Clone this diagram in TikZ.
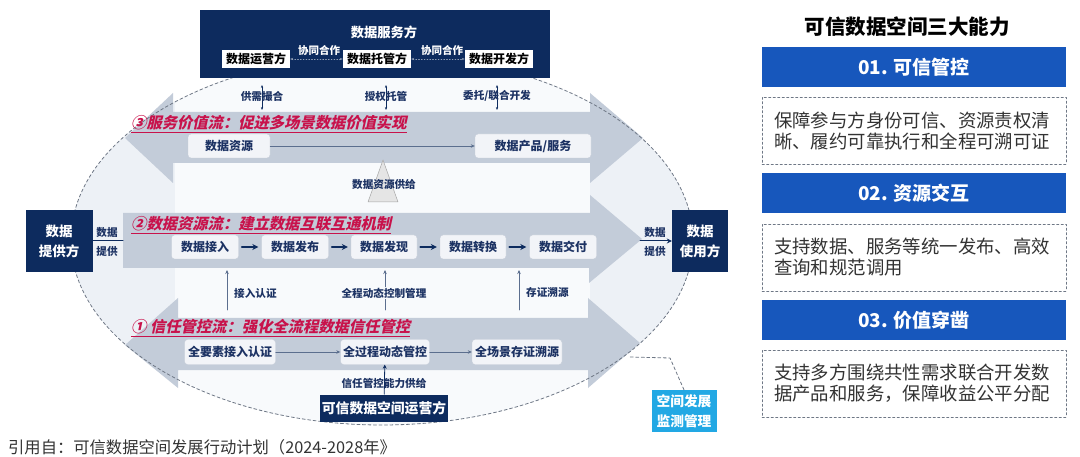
\documentclass[tikz,border=0pt]{standalone}
\usepackage{fontspec}
\setmainfont{Noto Sans CJK SC}
\newfontfamily\flowtitlefont{Noto Sans CJK SC}[FakeSlant=0.22,BoldFeatures={FakeSlant=0.22}]
\usetikzlibrary{arrows.meta}

\definecolor{navy}{HTML}{0D2B5E}
\definecolor{txtnavy}{HTML}{1C3263}
\definecolor{flowgray}{HTML}{C3CCD9}
\definecolor{ellbg}{HTML}{EDF1F6}
\definecolor{bandwhite}{HTML}{F8FAFC}
\definecolor{nodefill}{HTML}{F2F4F8}
\definecolor{nodeline}{HTML}{C5CCD8}
\definecolor{crimson}{HTML}{C8124B}
\definecolor{capblue}{HTML}{1757BC}
\definecolor{cyanbox}{HTML}{22A8E4}
\definecolor{dashgray}{HTML}{6E7785}
\definecolor{linkgray}{HTML}{5B6E8E}

\begin{document}
\begin{tikzpicture}[x=1pt,y=-1pt,line cap=round,line join=round,
  flownode/.style={draw=nodeline,fill=nodefill,rounded corners=3pt,text=txtnavy,inner sep=0pt,
    minimum height=24pt,font=\bfseries\fontsize{12}{14}\selectfont},
  innerbox/.style={fill=white,text=black,inner sep=0pt,minimum width=68pt,minimum height=18pt,
    font=\bfseries\fontsize{12}{14}\selectfont},
  partybox/.style={fill=navy,text=white,inner sep=0pt,align=center,minimum height=62pt,
    font=\bfseries\fontsize{13.5}{20}\selectfont},
  tag/.style={text=txtnavy,inner sep=1pt,font=\bfseries\fontsize{10.6}{12}\selectfont},
  flowtitle/.style={anchor=west,text=crimson,inner sep=0pt,
    font=\flowtitlefont\bfseries\fontsize{15.3}{17}\selectfont},
  capbar/.style={fill=capblue,text=white,minimum width=304pt,minimum height=40pt,
    font=\bfseries\fontsize{19}{22}\selectfont},
  capnote/.style={draw=dashgray,dash pattern=on 2.5pt off 2pt,minimum width=304pt,minimum height=67pt,
    text width=280pt,align=left,text=black!80,font=\fontsize{18.4}{21}\selectfont},
  thinlink/.style={linkgray,line width=0.6pt,-{Stealth[length=4pt,width=3.5pt]}},
  boldlink/.style={navy,line width=1.6pt,-{Stealth[length=6pt,width=6pt]}}]

  \fill[white] (0,0) rectangle (1080,457);
  \useasboundingbox (0,0) rectangle (1080,457);

  % trusted data space
  \fill[ellbg] (382,240) ellipse [x radius=311, y radius=185];
  \begin{scope}
    \clip (382,240) ellipse [x radius=311, y radius=185];
    \fill[bandwhite] (175,78) rectangle (590,112);
    \fill[bandwhite] (175,163) rectangle (590,213);
    \fill[bandwhite] (175,268) rectangle (590,318);
    \fill[bandwhite] (175,370) rectangle (590,430);
  \end{scope}

  % three flows
  \fill[flowgray] (125,138) -- (173,93) -- (173,112) -- (590,112) -- (590,93) -- (643,138)
    -- (590,183) -- (590,163) -- (173,163) -- (173,183) -- cycle;
  \fill[flowgray] (123,213) -- (590,213) -- (590,195) -- (642,239) -- (589,283) -- (589,268)
    -- (123,268) -- cycle;
  \fill[flowgray] (125,345) -- (178,298) -- (178,318) -- (588,318) -- (588,298) -- (640,343)
    -- (588,388) -- (588,370) -- (178,370) -- (178,388) -- cycle;

  \draw[dashgray,line width=0.8pt,dash pattern=on 3pt off 2.5pt]
    (382,240) ellipse [x radius=311, y radius=185];

  % data service side
  \fill[navy] (200,10) rectangle (550,78);
  \node[text=white,font=\bfseries\fontsize{13.3}{15}\selectfont] (servtitle) at (384,32) {数据服务方};
  \node[innerbox] (operator) at (256,59) {数据运营方};
  \node[innerbox] (custody) at (377,59) {数据托管方};
  \node[innerbox] (developer) at (499,59) {数据开发方};
  \draw[white!55!navy,dotted,line width=0.8pt,{Stealth[length=3pt]}-{Stealth[length=3pt]}]
    (operator) -- (custody);
  \draw[white!55!navy,dotted,line width=0.8pt,{Stealth[length=3pt]}-{Stealth[length=3pt]}]
    (custody) -- (developer);
  \node[text=white,font=\bfseries\fontsize{10.5}{12}\selectfont] (coop1) at (319,50) {协同合作};
  \node[text=white,font=\bfseries\fontsize{10.5}{12}\selectfont] (coop2) at (442,50) {协同合作};

  \coordinate (t1a) at (262,85);  \coordinate (t1b) at (262,110);
  \coordinate (t2a) at (386,85);  \coordinate (t2b) at (386,110);
  \coordinate (t3a) at (497,85);  \coordinate (t3b) at (497,110);
  \foreach \i in {1,2,3}
    \draw[navy,line width=0.6pt,{Stealth[length=3pt]}-{Stealth[length=3pt]}] (t\i a) -- (t\i b);
  \node[tag] (match) at (262,96) {供需撮合};
  \node[tag] (grant) at (386,96) {授权托管};
  \node[tag] (entrust) at (497,96) {委托/联合开发};

  % flow 3
  \node[flowtitle] (title3) at (131,124) {\underline{③服务价值流：促进多场景数据价值实现}};
  \node[flownode,minimum width=82pt] (resource) at (229,146) {数据资源};
  \node[flownode,minimum width=116pt] (product) at (533,146) {数据产品/服务};
  \draw[thinlink] (resource) -- (product);

  \fill[black!10,draw=black!35,line width=0.5pt] (383,160) -- (368,202) -- (398,202) -- cycle;
  \node[tag] (supply) at (384,184) {数据资源供给};

  % flow 2
  \node[flowtitle] (title2) at (131,225) {\underline{②数据资源流：建立数据互联互通机制}};
  \node[flownode,minimum width=67pt] (access) at (205,247) {数据接入};
  \node[flownode,minimum width=67pt] (publish) at (295,247) {数据发布};
  \node[flownode,minimum width=66pt] (discover) at (384,247) {数据发现};
  \node[flownode,minimum width=66pt] (convert) at (473,247) {数据转换};
  \node[flownode,minimum width=67pt] (deliver) at (563,247) {数据交付};
  \draw[boldlink,shorten <=3pt,shorten >=3pt] (access) -- (publish);
  \draw[boldlink,shorten <=3pt,shorten >=3pt] (publish) -- (discover);
  \draw[boldlink,shorten <=3pt,shorten >=3pt] (discover) -- (convert);
  \draw[boldlink,shorten <=3pt,shorten >=3pt] (convert) -- (deliver);

  \node[partybox,minimum width=67pt] (provider) at (59,241) {数据\\提供方};
  \node[partybox,minimum width=56pt] (consumer) at (700,241) {数据\\使用方};
  \coordinate (flow2in) at (123,241);
  \coordinate (flow2out) at (640,241);
  \draw[navy,line width=1pt] (provider.east) -- (flow2in);
  \draw[navy,line width=1pt,-{Stealth[length=5pt,width=5pt]}] (flow2out) -- (consumer.west);
  \node[tag] (give1) at (107,232) {数据};
  \node[tag] (give2) at (107,251) {提供};
  \node[tag] (get1) at (655,232) {数据};
  \node[tag] (get2) at (655,251) {提供};

  \coordinate (u1a) at (227,310); \coordinate (u1b) at (227,270);
  \coordinate (u2a) at (385,310); \coordinate (u2b) at (385,270);
  \coordinate (u3a) at (519,310); \coordinate (u3b) at (519,270);
  \foreach \i in {1,2,3}
    \draw[thinlink] (u\i a) -- (u\i b);
  \node[tag,anchor=west] (authin) at (233,293) {接入认证};
  \node[tag,fill=bandwhite] (dyncontrol) at (384,293) {全程动态控制管理};
  \node[tag,anchor=west] (evidence) at (525,292) {存证溯源};

  % flow 1
  \node[flowtitle] (title1) at (131,328) {\underline{① 信任管控流：强化全流程数据信任管控}};
  \node[flownode,minimum width=91pt,minimum height=25pt] (fullauth) at (230,352) {全要素接入认证};
  \node[flownode,minimum width=89pt,minimum height=25pt] (fullproc) at (385,352) {全过程动态管控};
  \node[flownode,minimum width=90pt,minimum height=25pt] (fullscene) at (517,352) {全场景存证溯源};
  \draw[thinlink] (fullauth) -- (fullproc);
  \draw[thinlink] (fullproc) -- (fullscene);

  \node[fill=navy,text=white,minimum width=128pt,minimum height=27pt,inner sep=0pt,
    font=\bfseries\fontsize{13.8}{15}\selectfont] (spaceop) at (384,408) {可信数据空间运营方};
  \draw[navy,line width=0.8pt,-{Stealth[length=4pt,width=4pt]}] (spaceop) -- (fullproc);
  \node[tag] (trustsupply) at (384,383) {信任管控能力供给};

  % monitoring
  \node[fill=cyanbox,text=white,minimum width=65pt,minimum height=42pt,inner sep=0pt,align=center,
    font=\bfseries\fontsize{13.7}{20}\selectfont] (monitor) at (684,411) {空间发展\\监测管理};
  \coordinate (mbend) at (670,358);
  \coordinate (mend) at (630,357);
  \draw[dashgray,line width=0.8pt,dash pattern=on 3pt off 2.5pt] (monitor.north) -- (mbend) -- (mend);

  % three capabilities
  \node[font=\bfseries\fontsize{20.5}{24}\selectfont] (captitle) at (907,27) {可信数据空间三大能力};
  \node[capbar] (cap1) at (914,67) {01. 可信管控};
  \node[capnote] (note1) at (914,130.5) {保障参与方身份可信、资源责权清\\晰、履约可靠执行和全程可溯可证};
  \node[capbar] (cap2) at (914,193) {02. 资源交互};
  \node[capnote] (note2) at (914,257.5) {支持数据、服务等统一发布、高效\\查询和规范调用};
  \node[capbar] (cap3) at (914,320) {03. 价值穿凿};
  \node[capnote] (note3) at (914,383.5) {支持多方围绕共性需求联合开发数\\据产品和服务，保障收益公平分配};

  \node[anchor=west,text=black!80,inner sep=0pt,font=\fontsize{16.3}{19}\selectfont] (source) at (8,447)
    {引用自：可信数据空间发展行动计划（2024-2028年》};
\end{tikzpicture}
\end{document}
